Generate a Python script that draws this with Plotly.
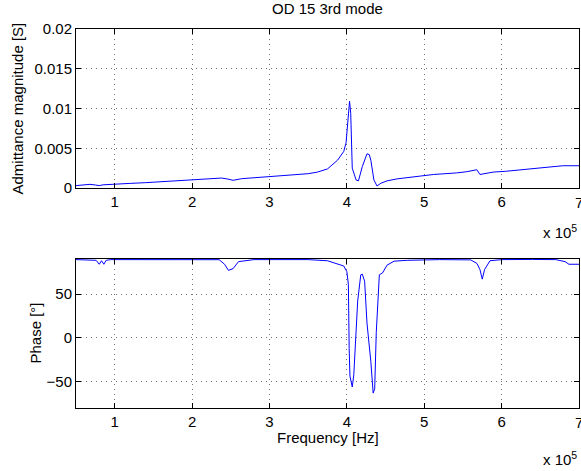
import plotly.graph_objects as go

# Magnitude data (frequency in Hz, admittance in S)
freq_mag = [0.50e5, 0.60e5, 0.68e5, 0.75e5, 0.80e5, 0.85e5, 0.92e5, 1.02e5, 1.20e5, 1.40e5, 1.60e5,
            1.74e5, 1.90e5, 2.09e5, 2.25e5, 2.38e5, 2.45e5, 2.53e5, 2.64e5, 2.80e5, 2.98e5, 3.15e5,
            3.33e5, 3.50e5, 3.62e5, 3.75e5, 3.88e5, 3.96e5, 3.99e5, 4.01e5, 4.035e5, 4.05e5, 4.07e5,
            4.12e5, 4.15e5, 4.20e5, 4.26e5, 4.29e5, 4.31e5, 4.35e5, 4.39e5, 4.44e5, 4.52e5, 4.65e5,
            4.82e5, 4.95e5, 5.12e5, 5.29e5, 5.42e5, 5.55e5, 5.65e5, 5.68e5, 5.72e5, 5.80e5, 5.89e5,
            6.05e5, 6.27e5, 6.49e5, 6.65e5, 6.79e5, 7.00e5]
magnitude = [0.00030, 0.00035, 0.00046, 0.00038, 0.00030, 0.00040, 0.00042, 0.00050, 0.00058, 0.00067, 0.00078,
             0.00090, 0.00095, 0.00100, 0.00110, 0.00125, 0.00115, 0.00097, 0.00117, 0.00128, 0.00140, 0.00152,
             0.00170, 0.00180, 0.00200, 0.00240, 0.00350, 0.00460, 0.00570, 0.00860, 0.01090, 0.00940, 0.00250,
             0.00100, 0.00090, 0.00270, 0.00430, 0.00420, 0.00350, 0.00100, 0.00025, 0.00060, 0.00090, 0.00115,
             0.00140, 0.00150, 0.00170, 0.00180, 0.00190, 0.00205, 0.00225, 0.00230, 0.00170, 0.00185, 0.00200,
             0.00210, 0.00230, 0.00258, 0.00265, 0.00280, 0.00280]

# Phase data (frequency in Hz, phase in degrees)
freq_phase = [0.50e5, 0.70e5, 0.76e5, 0.80e5, 0.83e5, 0.86e5, 0.89e5, 0.95e5, 1.50e5, 2.00e5, 2.35e5, 2.42e5,
              2.47e5, 2.53e5, 2.60e5, 2.80e5, 3.50e5, 3.75e5, 3.88e5, 3.96e5, 4.00e5, 4.02e5, 4.03e5, 4.04e5,
              4.07e5, 4.09e5, 4.14e5, 4.18e5, 4.20e5, 4.23e5, 4.26e5, 4.31e5, 4.34e5, 4.36e5, 4.38e5, 4.42e5,
              4.46e5, 4.52e5, 4.61e5, 4.78e5, 5.20e5, 5.60e5, 5.68e5, 5.72e5, 5.75e5, 5.78e5, 5.85e5, 6.00e5,
              6.40e5, 6.70e5, 6.82e5, 6.87e5, 7.00e5]
phase = [89.3, 89.3, 88.5, 84.0, 88.0, 84.0, 88.5, 89.3, 89.5, 89.5, 89.2, 84.0,
         77.0, 79.0, 87.0, 89.3, 89.3, 88.0, 84.0, 82.0, 75.6, 61.0, -12.0, -43.6,
         -56.0, -42.0, 42.0, 72.0, 72.7, 64.6, 17.0, -27.0, -63.0, -58.0, 6.0, 72.0,
         74.0, 83.0, 87.5, 88.5, 89.3, 89.0, 85.0, 78.0, 67.0, 78.0, 88.0, 89.3,
         89.5, 89.3, 87.0, 84.0, 84.0]

x_ticks = [1e5, 2e5, 3e5, 4e5, 5e5, 6e5, 7e5]
x_ticktext = ["1", "2", "3", "4", "5", "6", "7"]
mag_ticks = [0, 0.005, 0.01, 0.015, 0.02]
mag_ticktext = ["0", "0.005", "0.01", "0.015", "0.02"]
phase_ticks = [-50, 0, 50]
phase_ticktext = ["\u221250", "0", "50"]

FONT = "Liberation Sans, Arial, Helvetica, sans-serif"
FS = 15
W, H = 581, 471
L, R, T, B = 76, 2, 29, 63
plot_h = H - T - B
X_RANGE = [0.5e5, 7.0e5]

def ydom(top_px, bot_px):
    return [(H - B - bot_px) / plot_h, (H - B - top_px) / plot_h]

def ypix(py):
    return (H - B - py) / plot_h

def xpix(px):
    return (px - L) / (W - L - R)

fig = go.Figure()
fig.add_trace(go.Scatter(x=freq_mag, y=magnitude, mode="lines",
                         line=dict(color="#0000ff", width=1), xaxis="x", yaxis="y"))
fig.add_trace(go.Scatter(x=freq_phase, y=phase, mode="lines",
                         line=dict(color="#0000ff", width=1), xaxis="x2", yaxis="y2"))

axis_common = dict(showline=True, linecolor="black", linewidth=1, mirror="ticks",
                   ticks="inside", ticklen=5, tickcolor="black", automargin=False,
                   showgrid=True, gridcolor="rgba(0,0,0,0.55)", griddash="1px,4px", gridwidth=1,
                   zeroline=False, tickfont=dict(family=FONT, size=FS, color="black"))

# the last x tick label sits on the figure edge; it is drawn as an annotation
# at its tick value so the plot area keeps its full width
x_labels_axis = [t if v < X_RANGE[1] else "" for v, t in zip(x_ticks, x_ticktext)]

fig.update_layout(
    width=W, height=H,
    margin=dict(l=L, r=R, t=T, b=B),
    paper_bgcolor="white", plot_bgcolor="white",
    showlegend=False,
    font=dict(family=FONT, size=FS, color="black"),
    xaxis=dict(domain=[0, 1], range=X_RANGE, tickvals=x_ticks, ticktext=x_labels_axis,
               anchor="y", **axis_common),
    yaxis=dict(domain=ydom(29, 188), range=[0, 0.02], tickvals=mag_ticks, ticktext=mag_ticktext,
               anchor="x", **axis_common),
    xaxis2=dict(domain=[0, 1], range=X_RANGE, tickvals=x_ticks, ticktext=x_labels_axis,
                anchor="y2", **axis_common),
    yaxis2=dict(domain=ydom(259, 408), range=[-80, 90], tickvals=phase_ticks, ticktext=phase_ticktext,
                anchor="x2", **axis_common),
)

txt = dict(family=FONT, size=FS, color="black")
annotations = [
    dict(text="OD 15 3rd mode", xref="paper", yref="paper", x=0.5, y=ypix(9),
         showarrow=False, font=txt, xanchor="center", yanchor="middle"),
    dict(text="Admittance magnitude [S]", xref="paper", yref="paper",
         x=xpix(17), y=ypix((29 + 188) / 2),
         textangle=-90, showarrow=False, font=txt, xanchor="center", yanchor="middle"),
    dict(text="Phase [\u00b0]", xref="paper", yref="paper",
         x=xpix(35), y=ypix((259 + 408) / 2),
         textangle=-90, showarrow=False, font=txt, xanchor="center", yanchor="middle"),
    dict(text="Frequency [Hz]", xref="paper", yref="paper",
         x=0.5, y=ypix(437),
         showarrow=False, font=txt, xanchor="center", yanchor="middle"),
    dict(text="x 10<sup>5</sup>", xref="paper", yref="paper",
         x=1.0, y=ypix(231),
         showarrow=False, font=txt, xanchor="right", yanchor="middle"),
    dict(text="x 10<sup>5</sup>", xref="paper", yref="paper",
         x=1.0, y=ypix(458),
         showarrow=False, font=txt, xanchor="right", yanchor="middle"),
]
for v, t in zip(x_ticks, x_ticktext):
    if v >= X_RANGE[1]:
        annotations.append(dict(text=t, xref="x", yref="paper", x=v, y=ypix(202),
                                showarrow=False, font=txt, xanchor="center", yanchor="middle"))
        annotations.append(dict(text=t, xref="x2", yref="paper", x=v, y=ypix(422),
                                showarrow=False, font=txt, xanchor="center", yanchor="middle"))
fig.update_layout(annotations=annotations)

fig.write_html("out.html", config={"displayModeBar": False})

# remove default body margin so the figure sits at the window's top-left corner
with open("out.html", "r", encoding="utf-8") as f:
    html = f.read()
html = html.replace("<head>", "<head><style>html,body{margin:0;padding:0;overflow:hidden;}</style>", 1)
with open("out.html", "w", encoding="utf-8") as f:
    f.write(html)
